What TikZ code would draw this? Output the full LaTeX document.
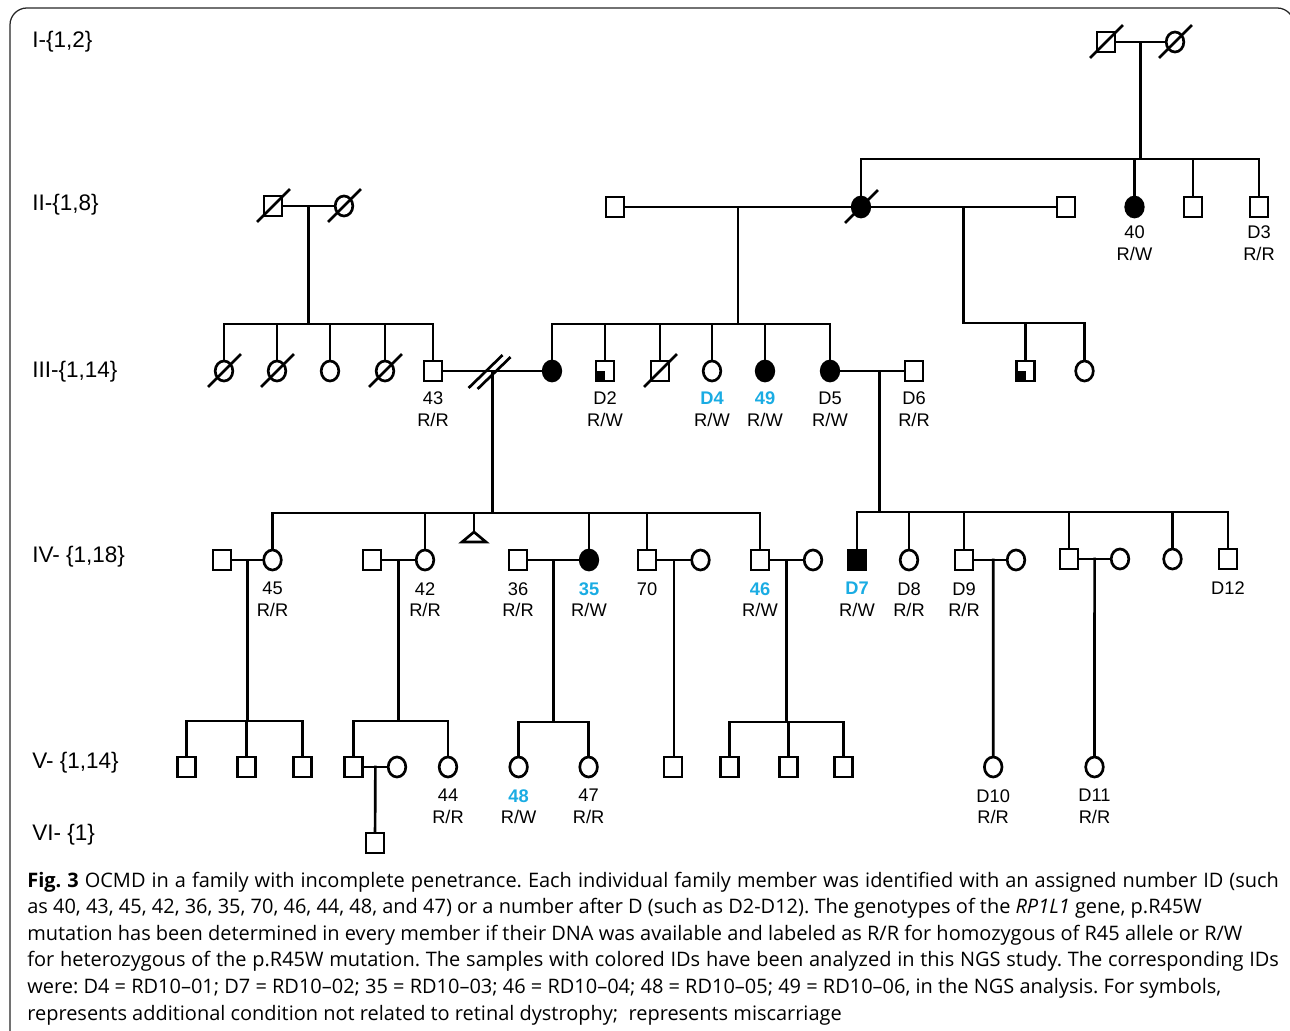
\documentclass[tikz,border=0pt]{standalone}
\usepackage{fontspec}
\setmainfont{Liberation Sans}
\newfontfamily\capfont{Open Sans}
\usepackage{tikz}
\usetikzlibrary{positioning, calc, shapes.geometric}
\usepackage{xcolor}
\definecolor{idblue}{HTML}{1AACE3}
\newcommand\ngsid[1]{\textcolor{idblue}{\bfseries #1}}
\newcommand\deadmark[1]{\draw ($(#1)+(-15,15)$) -- ($(#1)+(16,-16)$);}
\frenchspacing

\begin{document}
\begin{tikzpicture}[x=0.025cm, y=-0.025cm, line width=1.9pt, line cap=rect,
  male/.style={rectangle, draw, line width=1.9pt, minimum width=0.45cm, minimum height=0.5cm, inner sep=0pt},
  female/.style={ellipse, draw, line width=1.9pt, minimum width=0.44cm, minimum height=0.5cm, inner sep=0pt},
  affected/.style={fill=black},
  carrier/.style={path picture={\fill[black] (path picture bounding box.south west) rectangle (path picture bounding box.center);}},
  idlab/.style={align=center, inner sep=0pt, font=\fontsize{13}{15.6}\selectfont},
  genlab/.style={anchor=west, inner sep=0pt, font=\fontsize{16}{19}\selectfont},
  caprow/.style={anchor=base west, inner sep=0pt, font=\capfont\fontsize{14.2}{18.9}\selectfont}]
  \useasboundingbox (0,0) rectangle (1290,1031);
  \draw[line width=0.9pt, black!85, rounded corners=12] (10,1040) -- (10,8) -- (1294,8) -- (1294,40);

  \node[genlab] (gI) at (31,42) {I-\{1,2\}};
  \node[genlab] (gII) at (31,205) {II-\{1,8\}};
  \node[genlab] (gIII) at (31,372) {III-\{1,14\}};
  \node[genlab] (gIV) at (31,557) {IV- \{1,18\}};
  \node[genlab] (gV) at (31,763) {V- \{1,14\}};
  \node[genlab] (gVI) at (31,835) {VI- \{1\}};

  \node[male] (I1) at (1106,42) {};
  \node[female] (I2) at (1175,42) {};

  \node[male] (II1) at (273,206) {};
  \node[female] (II2) at (344,206) {};
  \node[male] (II4) at (615,207) {};
  \node[female, affected] (II3) at (861,207) {};
  \node[male] (II8) at (1066,207) {};
  \node[female, affected] (II5) at (1134.5,207) {};
  \node[male] (II6) at (1193,207) {};
  \node[male] (II7) at (1259,207) {};

  \node[female] (III1) at (224,371) {};
  \node[female] (III2) at (277,371) {};
  \node[female] (III3) at (330,371) {};
  \node[female] (III4) at (385,371) {};
  \node[male] (III5) at (433,371) {};
  \node[female, affected] (III6) at (552,371) {};
  \node[male, carrier] (III7) at (605,371) {};
  \node[male] (III8) at (660,371) {};
  \node[female] (III9) at (712,371) {};
  \node[female, affected] (III10) at (765,371) {};
  \node[female, affected] (III11) at (830,371) {};
  \node[male] (III12) at (914,371) {};
  \node[male, carrier] (III13) at (1025.5,371) {};
  \node[female] (III14) at (1084.5,371) {};

  \node[male] (IV1) at (222,560) {};
  \node[female] (IV2) at (272.5,560) {};
  \node[male] (IV3) at (372,560) {};
  \node[female] (IV4) at (425,560) {};
  \coordinate (misc) at (474,532);
  \node[male] (IV5) at (518,560) {};
  \node[female, affected] (IV6) at (589,560) {};
  \node[male] (IV7) at (647,560) {};
  \node[female] (IV8) at (700.5,560) {};
  \node[male] (IV9) at (760,560) {};
  \node[female] (IV10) at (813,560) {};
  \node[male, affected] (IV11) at (857,560) {};
  \node[female] (IV12) at (909,560) {};
  \node[male] (IV13) at (964,560) {};
  \node[female] (IV14) at (1016,560) {};
  \node[male] (IV15) at (1069,559) {};
  \node[female] (IV16) at (1120,559) {};
  \node[female] (IV17) at (1172.5,559) {};
  \node[male] (IV18) at (1228,559) {};

  \node[male] (V1) at (186.6,767) {};
  \node[male] (V2) at (246.6,767) {};
  \node[male] (V3) at (302.7,767) {};
  \node[male] (V4) at (353.6,767) {};
  \node[female] (V5) at (397,767) {};
  \node[female] (V6) at (448,767) {};
  \node[female] (V7) at (518.6,767) {};
  \node[female] (V8) at (588.6,767) {};
  \node[male] (V9) at (673,767) {};
  \node[male] (V10) at (729.5,767) {};
  \node[male] (V11) at (788.4,767) {};
  \node[male] (V12) at (843.5,767) {};
  \node[female] (V13) at (993.2,767) {};
  \node[female] (V14) at (1094.5,767) {};

  \node[male] (VI1) at (375,843) {};

  \foreach \p in {I1,I2,II1,II2,II3,III1,III2,III4,III8} {\deadmark{\p}}

  \coordinate (sI) at (0,159);
  \coordinate (sIIa) at (0,324);
  \coordinate (sIIb) at (0,324);
  \coordinate (sIIc) at (0,323);
  \coordinate (sIIIa) at (0,513);
  \coordinate (sIIIb) at (0,512);
  \coordinate (sIVa) at (0,721);
  \coordinate (sIVb) at (0,721);
  \coordinate (sIVc) at (0,722);
  \coordinate (sIVd) at (0,722);

  \draw (I1) -- (I2) coordinate[midway] (mI);
  \draw (mI) -- (mI |- sI);
  \draw (II3 |- sI) -- (II7 |- sI);
  \foreach \c in {II3,II5,II6,II7} \draw (\c) -- (\c |- sI);

  \draw (II1) -- (II2) coordinate[midway] (mIIa);
  \draw (mIIa) -- (mIIa |- sIIa);
  \draw (III1 |- sIIa) -- (III5 |- sIIa);
  \foreach \c in {III1,III2,III3,III4,III5} \draw (\c) -- (\c |- sIIa);

  \draw (II4) -- (II3) coordinate[midway] (mIIb);
  \draw (mIIb) -- (mIIb |- sIIb);
  \draw (III6 |- sIIb) -- (III11 |- sIIb);
  \foreach \c in {III6,III7,III8,III9,III10,III11} \draw (\c) -- (\c |- sIIb);

  \draw (II3) -- (II8) coordinate[midway] (mIIc);
  \draw (mIIc) -- (mIIc |- sIIc);
  \draw (mIIc |- sIIc) -- (III14 |- sIIc);
  \foreach \c in {III13,III14} \draw (\c) -- (\c |- sIIc);

  \draw (III5) -- (III6) coordinate[midway] (mIIIa);
  \draw ($(mIIIa)+(-23,16)$) -- ++(32,-31);
  \draw ($(mIIIa)+(-14,17)$) -- ++(31,-30);
  \draw (mIIIa) -- (mIIIa |- sIIIa);
  \draw (IV2 |- sIIIa) -- (IV9 |- sIIIa);
  \foreach \c in {IV2,IV4,IV6,IV7,IV9} \draw (\c) -- (\c |- sIIIa);
  \draw (misc) -- (misc |- sIIIa);
  \draw (misc) -- ++(12,10) -- ++(-24,0) -- cycle;

  \draw (III11) -- (III12) coordinate[pos=0.62] (mIIIb);
  \draw (mIIIb) -- (mIIIb |- sIIIb);
  \draw (IV11 |- sIIIb) -- (IV18 |- sIIIb);
  \foreach \c in {IV11,IV12,IV13,IV15,IV17,IV18} \draw (\c) -- (\c |- sIIIb);

  \draw (IV1) -- (IV2) coordinate[midway] (mIVa);
  \draw (mIVa) -- (mIVa |- sIVa);
  \draw (V1 |- sIVa) -- (V3 |- sIVa);
  \foreach \c in {V1,V2,V3} \draw (\c) -- (\c |- sIVa);

  \draw (IV3) -- (IV4) coordinate[midway] (mIVb);
  \draw (mIVb) -- (mIVb |- sIVb);
  \draw (V4 |- sIVb) -- (V6 |- sIVb);
  \foreach \c in {V4,V6} \draw (\c) -- (\c |- sIVb);

  \draw (IV5) -- (IV6) coordinate[midway] (mIVc);
  \draw (mIVc) -- (mIVc |- sIVc);
  \draw (V7 |- sIVc) -- (V8 |- sIVc);
  \foreach \c in {V7,V8} \draw (\c) -- (\c |- sIVc);

  \draw (IV7) -- (IV8) coordinate[midway] (mIVe);
  \draw (mIVe) -- (mIVe |- V9.north);

  \draw (IV9) -- (IV10) coordinate[midway] (mIVd);
  \draw (mIVd) -- (mIVd |- sIVd);
  \draw (V10 |- sIVd) -- (V12 |- sIVd);
  \foreach \c in {V10,V11,V12} \draw (\c) -- (\c |- sIVd);

  \draw (IV13) -- (IV14) coordinate[pos=0.6] (mIVf);
  \draw (mIVf) -- (V13);
  \draw (IV15) -- (IV16) coordinate[midway] (mIVg);
  \draw (mIVg) -- (V14);

  \draw (V4) -- (V5) coordinate[midway] (mV);
  \draw (mV) -- (VI1);

  \node[idlab, below=0.16cm of II5] (l40) {40\\R/W};
  \node[idlab, below=0.16cm of II7] (lD3) {D3\\R/R};
  \node[idlab, below=0.2cm of III5] (l43) {43\\R/R};
  \node[idlab, below=0.2cm of III7] (lD2) {D2\\R/W};
  \node[idlab, below=0.2cm of III9] (lD4) {\ngsid{D4}\\R/W};
  \node[idlab, below=0.2cm of III10] (l49) {\ngsid{49}\\R/W};
  \node[idlab, below=0.2cm of III11] (lD5) {D5\\R/W};
  \node[idlab, below=0.2cm of III12] (lD6) {D6\\R/R};
  \node[idlab, below=0.24cm of IV2] (l45) {45\\R/R};
  \node[idlab, below=0.24cm of IV4] (l42) {42\\R/R};
  \node[idlab, below=0.24cm of IV5] (l36) {36\\R/R};
  \node[idlab, below=0.24cm of IV6] (l35) {\ngsid{35}\\R/W};
  \node[idlab, below=0.24cm of IV7] (l70) {70};
  \node[idlab, below=0.24cm of IV9] (l46) {\ngsid{46}\\R/W};
  \node[idlab, below=0.24cm of IV11] (lD7) {\ngsid{D7}\\R/W};
  \node[idlab, below=0.24cm of IV12] (lD8) {D8\\R/R};
  \node[idlab, below=0.24cm of IV13] (lD9) {D9\\R/R};
  \node[idlab, below=0.24cm of IV18] (lD12) {D12};
  \node[idlab, below=0.24cm of V6] (l44) {44\\R/R};
  \node[idlab, below=0.24cm of V7] (l48) {\ngsid{48}\\R/W};
  \node[idlab, below=0.24cm of V8] (l47) {47\\R/R};
  \node[idlab, below=0.24cm of V13] (lD10) {D10\\R/R};
  \node[idlab, below=0.24cm of V14] (lD11) {D11\\R/R};

  \node[caprow] (cap1) at (26,887) {\makebox[31.28cm][s]{\textbf{Fig. 3} OCMD in a family with incomplete penetrance. Each individual family member was identified with an assigned number ID (such}};
  \node[caprow] (cap2) at (26,913.6) {as 40, 43, 45, 42, 36, 35, 70, 46, 44, 48, and 47) or a number after D (such as D2-D12). The genotypes of the \textit{RP1L1} gene, p.R45W};
  \node[caprow] (cap3) at (26,940.2) {mutation has been determined in every member if their DNA was available and labeled as R/R for homozygous of R45 allele or R/W};
  \node[caprow] (cap4) at (26,966.8) {\makebox[31.28cm][s]{for heterozygous of the p.R45W mutation. The samples with colored IDs have been analyzed in this NGS study. The corresponding IDs}};
  \node[caprow] (cap5) at (26,993.4) {were: D4 = RD10–01; D7 = RD10–02; 35 = RD10–03; 46 = RD10–04; 48 = RD10–05; 49 = RD10–06, in the NGS analysis. For symbols,};
  \node[caprow] (cap6) at (26,1020) {represents additional condition not related to retinal dystrophy;\ \ represents miscarriage};
\end{tikzpicture}
\end{document}
